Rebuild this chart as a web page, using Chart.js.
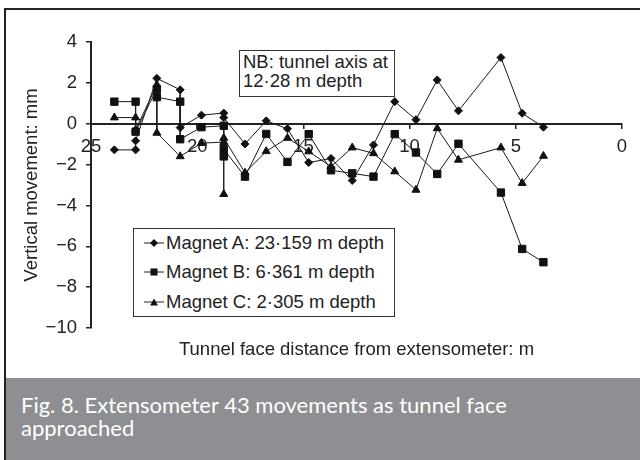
<!DOCTYPE html>
<html>
<head>
<meta charset="utf-8">
<script src="https://cdn.jsdelivr.net/npm/chart.js@4/dist/chart.umd.min.js"></script>
<style>
  body { margin: 0; background: #fff; }
  #figura { position: relative; width: 640px; height: 460px; overflow: hidden; font-family: "Liberation Sans", Arial, sans-serif; color: #222; }
  #grafico { position: absolute; left: 0; top: 0; }
  #moldura { position: absolute; left: 4px; top: 8px; right: 0; bottom: 0; border-left: 2px solid #222; border-top: 2px solid #222; pointer-events: none; }
  .caixa { position: absolute; box-sizing: border-box; background: #fff; border: 1px solid #333; font-size: 18.5px; }
  #nota { left: 239px; top: 50px; width: 156px; height: 47px; line-height: 19px; padding: 1px 0 0 3px; }
  #legenda { left: 133px; top: 228px; width: 262px; height: 89px; padding-left: 9px; }
  #legenda .item { display: flex; align-items: center; height: 29.5px; }
  #legenda .item:first-child { margin-top: -1px; }
  #legenda svg { margin-right: 1px; }
  #rodape { position: absolute; left: 4px; top: 378px; right: 0; bottom: 0; background: #8d8f92; color: #fff;
            font-family: Lato, "Open Sans", sans-serif; font-size: 22px; line-height: 23px; padding: 15px 0 0 17px; box-sizing: border-box; }
</style>
</head>
<body>
<div id="figura">
  <canvas id="grafico" width="640" height="378"></canvas>
  <div id="nota" class="caixa">NB: tunnel axis at<br>12·28 m depth</div>
  <div id="legenda" class="caixa"></div>
  <div id="rodape">Fig. 8. Extensometer 43 movements as tunnel face<br>approached</div>
  <div id="moldura"></div>
</div>
<script>
// distancia da frente do tunel (m) e movimento vertical (mm) de cada ima
const distA = [23.9, 22.9, 22.9, 21.9, 20.8, 20.8, 19.8, 18.75, 18.75, 17.75, 16.75, 15.75, 14.75, 13.7, 12.7, 11.7, 10.7, 9.7, 8.7, 7.7, 5.7, 4.7, 3.7];
const movA  = [-1.28, -1.28, -0.84, 2.22, 1.66, -0.19, 0.42, 0.52, 0.3, -0.99, 0.14, -0.25, -1.9, -1.7, -2.78, -1.04, 1.08, 0.2, 2.14, 0.63, 3.24, 0.51, -0.17];

const distB = [23.9, 22.9, 22.9, 21.9, 21.9, 20.8, 20.8, 19.8, 18.75, 18.75, 18.75, 17.75, 16.75, 15.75, 14.75, 13.7, 12.7, 11.7, 10.7, 9.7, 8.7, 7.7, 5.7, 4.7, 3.7];
const movB  = [1.08, 1.08, -0.39, 1.7, 1.3, 1.08, -0.76, -0.17, -0.1, -1.6, -1.25, -2.59, -0.5, -1.87, -0.51, -2.28, -2.43, -2.59, -0.51, -1.41, -2.46, -0.98, -3.37, -6.13, -6.78];

const distC = [23.9, 22.9, 22.9, 21.9, 21.9, 20.8, 19.8, 18.75, 18.75, 18.75, 17.75, 16.75, 15.75, 14.75, 13.7, 12.7, 11.7, 10.7, 9.7, 8.7, 7.7, 5.7, 4.7, 3.7];
const movC  = [0.3, 0.3, -0.3, 1.9, -0.45, -1.6, -0.95, -0.9, -3.45, -0.7, -2.4, -1.35, -0.7, -1.36, -2.1, -1.17, -1.45, -2.34, -3.24, -0.23, -1.77, -1.17, -2.91, -1.58];

const nomes = ['Magnet A: 23·159 m depth', 'Magnet B: 6·361 m depth', 'Magnet C: 2·305 m depth'];

const fonte = { family: '"Liberation Sans", Arial, sans-serif', size: 18.5, weight: 'normal' };
const preto = '#222';

function pares(xs, ys) {
  return xs.map((x, i) => ({ x: x, y: ys[i] }));
}

function serie(nome, dados, forma, raio) {
  return {
    label: nome,
    data: dados,
    showLine: true,
    borderColor: '#1a1a1a',
    borderWidth: 1,
    pointStyle: forma,
    pointRadius: raio,
    pointBackgroundColor: '#111',
    pointBorderColor: '#111',
    pointBorderWidth: 1
  };
}

const ctx = document.getElementById('grafico');
const grafico = new Chart(ctx, {
  type: 'scatter',
  data: {
    datasets: [
      serie(nomes[0], pares(distA, movA), 'rectRot', 4),
      serie(nomes[1], pares(distB, movB), 'rect', 5.2),
      serie(nomes[2], pares(distC, movC), 'triangle', 4.6)
    ]
  },
  options: {
    responsive: false,
    animation: false,
    devicePixelRatio: 1,
    layout: { padding: { left: 0, right: 18, top: 42, bottom: 0 } },
    plugins: {
      legend: { display: false },
      tooltip: { enabled: false },
      title: {
        display: true,
        position: 'bottom',
        fullSize: false,
        text: 'Tunnel face distance from extensometer: m',
        color: preto,
        font: fonte,
        padding: { top: 11, bottom: 16.8 }
      }
    },
    scales: {
      x: {
        type: 'linear',
        min: 0,
        max: 25,
        reverse: true,
        position: { y: 0 },
        ticks: { stepSize: 5, color: preto, font: fonte, padding: 8 },
        grid: { drawOnChartArea: false, tickLength: 4, color: preto, lineWidth: 1.5 },
        border: { color: preto, width: 2 },
        afterFit(escala) { escala.height = 0; }
      },
      y: {
        min: -10,
        max: 4,
        ticks: {
          stepSize: 2,
          color: preto,
          font: fonte,
          padding: 9,
          callback: (v) => (v < 0 ? '\u2212' + Math.abs(v) : String(v))
        },
        grid: { drawOnChartArea: false, tickLength: 5, color: preto, lineWidth: 1.5 },
        border: { color: preto, width: 2 },
        title: { display: true, text: 'Vertical movement: mm', color: preto, font: fonte, padding: { top: 21, bottom: 0 } },
        afterFit(escala) { escala.width = 91; }
      }
    }
  }
});

// legenda montada a partir dos conjuntos de dados
const formas = {
  rectRot: '<polygon points="11,2 15,6 11,10 7,6" fill="#111"/>',
  rect: '<rect x="7.5" y="2.5" width="7" height="7" fill="#111"/>',
  triangle: '<polygon points="11,2.5 15,9.5 7,9.5" fill="#111"/>'
};
const legenda = document.getElementById('legenda');
grafico.data.datasets.forEach((ds) => {
  const item = document.createElement('div');
  item.className = 'item';
  item.innerHTML = '<svg width="22" height="12"><line x1="1" y1="6" x2="21" y2="6" stroke="#222" stroke-width="1"/>' +
    formas[ds.pointStyle] + '</svg><span>' + ds.label + '</span>';
  legenda.appendChild(item);
});
</script>
</body>
</html>
